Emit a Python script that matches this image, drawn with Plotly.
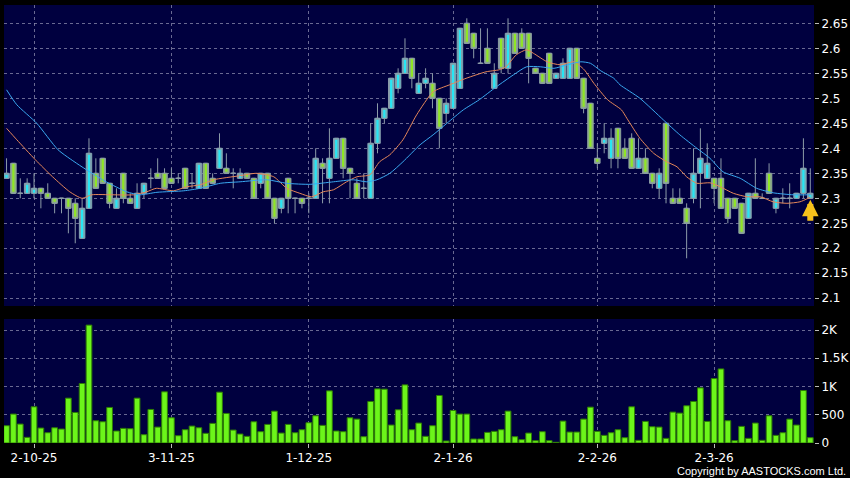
import plotly.graph_objects as go

# ---------------- data ----------------
tick_labels = ["2-10-25", "3-11-25", "1-12-25", "2-1-26", "2-2-26", "2-3-26"]
tick_index = [4, 24, 44, 65, 86, 103]

open_ = [
    2.34, 2.37, 2.31, 2.31, 2.31, 2.32, 2.31, 2.30, 2.30, 2.30,
    2.29, 2.22, 2.28, 2.35, 2.38, 2.33, 2.28, 2.35, 2.30, 2.28,
    2.31, 2.34, 2.35, 2.35, 2.34, 2.34, 2.36, 2.33, 2.32, 2.37,
    2.34, 2.36, 2.36, 2.35, 2.34, 2.35, 2.34, 2.33, 2.35, 2.30,
    2.28, 2.34, 2.30, 2.30, 2.30, 2.30, 2.37, 2.34, 2.38, 2.42,
    2.36, 2.33, 2.32, 2.30, 2.41, 2.46, 2.48, 2.52, 2.55, 2.58,
    2.51, 2.53, 2.53, 2.50, 2.47, 2.48, 2.52, 2.65, 2.63, 2.57,
    2.60, 2.52, 2.62, 2.56, 2.63, 2.63, 2.63, 2.56, 2.55, 2.59,
    2.54, 2.54, 2.54, 2.60, 2.54, 2.49, 2.38, 2.41, 2.38, 2.44,
    2.40, 2.42, 2.36, 2.38, 2.35, 2.32, 2.45, 2.30, 2.30, 2.28,
    2.30, 2.35, 2.34, 2.34, 2.34, 2.30, 2.30, 2.29, 2.26, 2.31,
    2.30, 2.35, 2.28, 2.30, 2.30, 2.30, 2.31, 2.30,
]
high = [
    2.38, 2.37, 2.34, 2.34, 2.35, 2.32, 2.33, 2.30, 2.30, 2.30,
    2.30, 2.30, 2.42, 2.38, 2.38, 2.33, 2.32, 2.35, 2.31, 2.33,
    2.33, 2.36, 2.38, 2.36, 2.36, 2.35, 2.36, 2.35, 2.37, 2.37,
    2.35, 2.43, 2.39, 2.36, 2.36, 2.35, 2.34, 2.35, 2.35, 2.30,
    2.30, 2.34, 2.30, 2.30, 2.31, 2.40, 2.38, 2.44, 2.42, 2.42,
    2.36, 2.34, 2.35, 2.45, 2.49, 2.48, 2.54, 2.56, 2.62, 2.58,
    2.55, 2.56, 2.55, 2.50, 2.50, 2.57, 2.64, 2.66, 2.63, 2.64,
    2.64, 2.57, 2.62, 2.66, 2.63, 2.64, 2.63, 2.56, 2.55, 2.59,
    2.55, 2.58, 2.60, 2.60, 2.54, 2.49, 2.41, 2.45, 2.44, 2.44,
    2.42, 2.43, 2.42, 2.40, 2.35, 2.36, 2.45, 2.32, 2.32, 2.29,
    2.40, 2.44, 2.41, 2.34, 2.38, 2.30, 2.30, 2.29, 2.31, 2.38,
    2.31, 2.37, 2.30, 2.32, 2.33, 2.31, 2.42, 2.36,
]
low = [
    2.34, 2.31, 2.30, 2.31, 2.30, 2.28, 2.30, 2.27, 2.27, 2.23,
    2.21, 2.22, 2.28, 2.32, 2.33, 2.28, 2.28, 2.29, 2.29, 2.28,
    2.30, 2.32, 2.34, 2.32, 2.33, 2.33, 2.32, 2.32, 2.32, 2.32,
    2.33, 2.36, 2.35, 2.32, 2.34, 2.34, 2.30, 2.32, 2.30, 2.25,
    2.27, 2.27, 2.27, 2.28, 2.27, 2.30, 2.29, 2.29, 2.38, 2.34,
    2.30, 2.30, 2.30, 2.30, 2.39, 2.45, 2.48, 2.51, 2.55, 2.52,
    2.51, 2.52, 2.48, 2.40, 2.45, 2.48, 2.52, 2.61, 2.58, 2.57,
    2.57, 2.52, 2.55, 2.55, 2.59, 2.60, 2.53, 2.55, 2.53, 2.53,
    2.54, 2.54, 2.54, 2.54, 2.47, 2.40, 2.36, 2.39, 2.36, 2.36,
    2.38, 2.36, 2.36, 2.35, 2.32, 2.30, 2.29, 2.29, 2.29, 2.18,
    2.29, 2.28, 2.34, 2.29, 2.28, 2.25, 2.28, 2.23, 2.26, 2.30,
    2.30, 2.31, 2.27, 2.29, 2.28, 2.30, 2.30, 2.30,
]
close = [
    2.35, 2.31, 2.31, 2.33, 2.32, 2.31, 2.30, 2.29, 2.30, 2.28,
    2.26, 2.28, 2.39, 2.32, 2.33, 2.29, 2.30, 2.30, 2.29, 2.31,
    2.33, 2.34, 2.34, 2.32, 2.33, 2.34, 2.32, 2.33, 2.37, 2.32,
    2.33, 2.40, 2.35, 2.35, 2.35, 2.34, 2.30, 2.35, 2.30, 2.26,
    2.30, 2.30, 2.30, 2.29, 2.30, 2.38, 2.36, 2.38, 2.42, 2.36,
    2.35, 2.30, 2.32, 2.41, 2.46, 2.48, 2.54, 2.55, 2.58, 2.54,
    2.53, 2.54, 2.50, 2.44, 2.49, 2.57, 2.64, 2.61, 2.60, 2.57,
    2.57, 2.55, 2.56, 2.63, 2.59, 2.60, 2.58, 2.55, 2.53, 2.53,
    2.55, 2.57, 2.60, 2.54, 2.48, 2.40, 2.37, 2.42, 2.42, 2.38,
    2.38, 2.36, 2.38, 2.35, 2.33, 2.35, 2.33, 2.29, 2.29, 2.25,
    2.35, 2.38, 2.37, 2.32, 2.28, 2.26, 2.28, 2.23, 2.31, 2.30,
    2.30, 2.31, 2.30, 2.30, 2.30, 2.31, 2.36, 2.31,
]
volume = [
    306, 512, 335, 100, 641, 265, 182, 270, 247, 794,
    541, 1053, 2087, 394, 376, 629, 212, 259, 253, 794,
    147, 594, 282, 906, 447, 129, 235, 300, 270, 171,
    347, 900, 523, 229, 159, 118, 376, 200, 329, 564,
    176, 329, 182, 235, 359, 482, 312, 923, 212, 200,
    447, 423, 112, 735, 958, 953, 318, 588, 1029, 235,
    353, 118, 306, 841, 35, 576, 512, 512, 71, 71,
    188, 206, 235, 565, 112, 59, 176, 41, 200, 41,
    12, 388, 194, 194, 423, 635, 206, 135, 182, 235,
    94, 641, 47, 382, 288, 282, 82, 547, 529, 659,
    735, 976, 382, 1141, 1311, 394, 41, 294, 82, 353,
    47, 482, 135, 182, 423, 318, 929, 94,
]

# moving-average lines (index position, value)
ma_short_x = [0, 1.5, 4.2, 6.7, 9.2, 11, 12.4, 15.5, 18.5, 20.4, 21.8, 24.3, 26.2, 28.2, 30.1,
              33.9, 36.4, 38.9, 40.8, 42.7, 44.4, 46.1, 47.6, 49.5, 51, 52.9, 54.3, 55.8, 57.7,
              59.7, 62.1, 64.5, 66.9, 69.8, 71.7, 72.7, 74.2, 75.7, 76.7, 78.7, 80.6, 82.6, 84.1,
              85.5, 87.5, 89.5, 90.3, 92.2, 94.2, 96.1, 97.6, 99, 100.5, 102.4, 103.9, 105.8,
              107.8, 109.7, 111.6, 113.6, 115.5, 117]
ma_short_y = [2.44, 2.417, 2.377, 2.343, 2.313, 2.30, 2.307, 2.307, 2.307, 2.313, 2.32, 2.315, 2.323,
              2.327, 2.337, 2.345, 2.35, 2.343, 2.32, 2.31, 2.303, 2.313, 2.317, 2.333, 2.343, 2.347,
              2.373, 2.387, 2.417, 2.467, 2.513, 2.527, 2.54, 2.553, 2.557, 2.563, 2.587, 2.597,
              2.59, 2.573, 2.567, 2.573, 2.557, 2.53, 2.497, 2.477, 2.46, 2.42, 2.39, 2.373, 2.363,
              2.343, 2.33, 2.331, 2.323, 2.31, 2.303, 2.303, 2.293, 2.29, 2.293, 2.302]
ma_long_x = [0, 1.5, 4.4, 7.5, 10.2, 12.1, 14.5, 17.5, 19.4, 21.9, 25.8, 28.2, 31.1, 34, 37.9,
             40.8, 44.2, 47.6, 50.5, 52.4, 53.9, 55.8, 57.7, 60.2, 62.1, 64.1, 66.5, 68.8, 71.3,
             73.8, 75.7, 77.7, 79.7, 81.6, 83.6, 85, 86.5, 88.4, 89.3, 92.2, 95.6, 98, 100.5,
             102.4, 104.3, 106.8, 109.2, 111.6, 114.5, 117]
ma_long_y = [2.517, 2.487, 2.45, 2.397, 2.37, 2.353, 2.333, 2.313, 2.307, 2.312, 2.315, 2.32, 2.33,
             2.333, 2.337, 2.33, 2.328, 2.333, 2.337, 2.333, 2.337, 2.35, 2.373, 2.407, 2.427, 2.45,
             2.477, 2.497, 2.523, 2.547, 2.563, 2.563, 2.56, 2.567, 2.573, 2.57, 2.555, 2.54, 2.527,
             2.50, 2.457, 2.427, 2.40, 2.38, 2.353, 2.34, 2.32, 2.311, 2.307, 2.307]

price_ticks = [2.1, 2.15, 2.2, 2.25, 2.3, 2.35, 2.4, 2.45, 2.5, 2.55, 2.6, 2.65]
price_tick_text = ["2.1", "2.15", "2.2", "2.25", "2.3", "2.35", "2.4", "2.45", "2.5", "2.55", "2.6", "2.65"]
vol_ticks = [0, 500, 1000, 1500, 2000]
vol_tick_text = ["0", "500", "1K", "1.5K", "2K"]

# ---------------- figure ----------------
idx = list(range(len(close)))
GRID = "rgba(140,140,175,0.75)"
FONT = "DejaVu Sans, Verdana, sans-serif"
UP, DOWN, EDGE = "#27e6f4", "#8fe624", "#8c9ba8"

body_base = [min(o, c) for o, c in zip(open_, close)]
body_size = [abs(c - o) for o, c in zip(open_, close)]
body_color = [UP if c > o else DOWN for o, c in zip(open_, close)]

fig = go.Figure()
# wicks (and doji lines) from the candlestick trace
fig.add_trace(go.Candlestick(
    x=idx, open=open_, high=high, low=low, close=close,
    increasing=dict(line=dict(color=EDGE, width=1), fillcolor=UP),
    decreasing=dict(line=dict(color=EDGE, width=1), fillcolor=DOWN),
    whiskerwidth=0, xaxis="x", yaxis="y", showlegend=False,
))
# wider candle bodies
fig.add_trace(go.Bar(x=idx, y=body_size, base=body_base, width=0.8,
                     marker=dict(color=body_color, line=dict(color=EDGE, width=1)),
                     xaxis="x", yaxis="y", showlegend=False))
fig.add_trace(go.Scatter(x=ma_short_x, y=ma_short_y, mode="lines",
                         line=dict(color="#e5875a", width=1, shape="spline", smoothing=0.6),
                         xaxis="x", yaxis="y", showlegend=False))
fig.add_trace(go.Scatter(x=ma_long_x, y=ma_long_y, mode="lines",
                         line=dict(color="#3aa8f0", width=1, shape="spline", smoothing=0.6),
                         xaxis="x", yaxis="y", showlegend=False))
fig.add_trace(go.Bar(x=idx, y=volume, marker=dict(color="#6cf51a", line=dict(color="#2e7d05", width=1)),
                     xaxis="x2", yaxis="y2", showlegend=False))

fig.add_annotation(x=idx[-1], y=2.297, ax=idx[-1], ay=2.252, xref="x", yref="y", axref="x", ayref="y",
                   showarrow=True, arrowhead=2, arrowsize=0.55, arrowwidth=6, arrowcolor="#f7c21b", text="")
fig.add_annotation(x=1, y=0, xref="paper", yref="paper", xanchor="right", yanchor="middle",
                   xshift=34, yshift=-28, showarrow=False, text="Copyright by AASTOCKS.com Ltd.",
                   font=dict(family="Liberation Sans, Arial, sans-serif", size=11, color="#ffffff"))

xr = [-0.37, 117.54]
fig.update_layout(
    width=850, height=478,
    margin=dict(l=4, r=36, t=5, b=35),
    paper_bgcolor="#000000", plot_bgcolor="#00003f",
    showlegend=False, bargap=0.17,
    font=dict(family=FONT, color="#ffffff", size=12),
    xaxis=dict(domain=[0, 1], range=xr, anchor="y", rangeslider=dict(visible=False),
               tickvals=tick_index, showticklabels=False, ticks="",
               showgrid=True, gridcolor=GRID, griddash="3px,3px", gridwidth=1, zeroline=False),
    yaxis=dict(domain=[0.3128, 1], range=[2.0846, 2.6866], side="right", anchor="x",
               tickvals=price_ticks, ticktext=price_tick_text, ticks="outside", ticklen=4,
               tickcolor="#bbbbbb", tickfont=dict(family=FONT, size=12, color="#ffffff"),
               showgrid=True, gridcolor=GRID, griddash="3px,3px", zeroline=False, automargin=False),
    xaxis2=dict(domain=[0, 1], range=xr, anchor="y2", tickvals=tick_index, ticktext=tick_labels,
                ticks="outside", ticklen=4, tickcolor="#bbbbbb",
                tickfont=dict(family=FONT, size=12, color="#ffffff"),
                showgrid=True, gridcolor=GRID, griddash="3px,3px", zeroline=False, automargin=False),
    yaxis2=dict(domain=[0, 0.2831], range=[0, 2195], side="right", anchor="x2",
                tickvals=vol_ticks, ticktext=vol_tick_text, ticks="outside", ticklen=4,
                tickcolor="#bbbbbb", tickfont=dict(family=FONT, size=12, color="#ffffff"),
                showgrid=True, gridcolor=GRID, griddash="3px,3px", zeroline=False, automargin=False),
)

fig.write_html("out.html", config={"displayModeBar": False},
               post_script="document.body.style.margin='0';document.body.style.background='#000';")
